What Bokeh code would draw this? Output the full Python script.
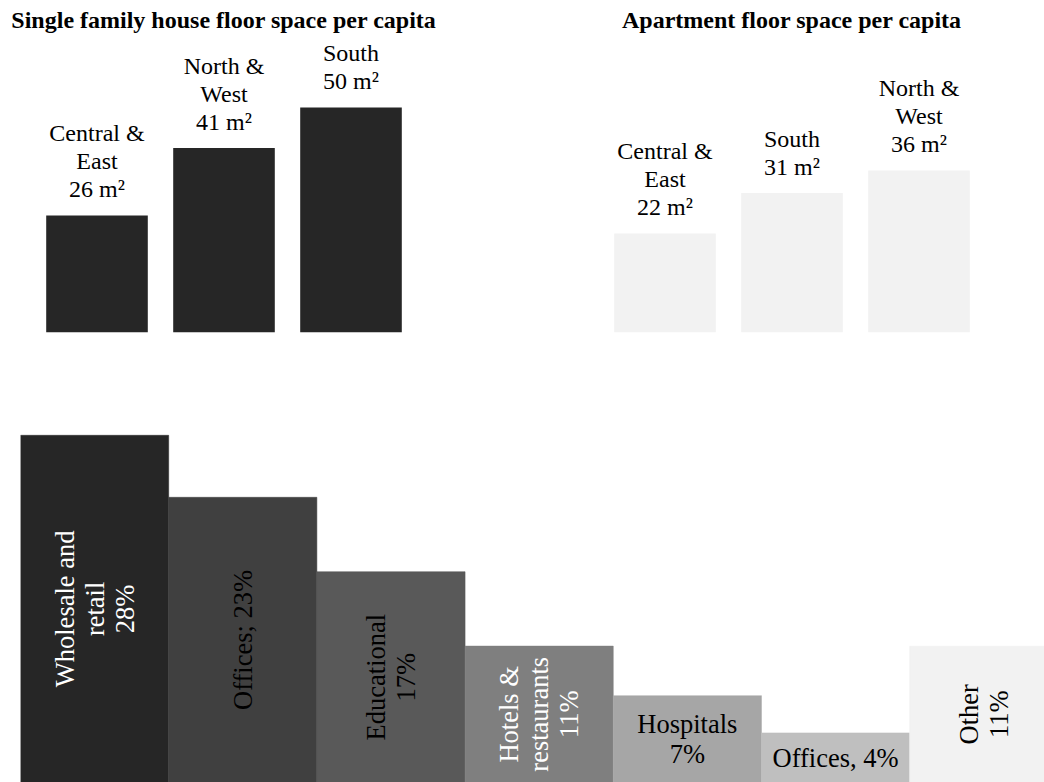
import math

from bokeh.core.properties import value
from bokeh.embed import file_html
from bokeh.layouts import column, row
from bokeh.models import ColumnDataSource, FactorRange, Range1d
from bokeh.plotting import figure
from bokeh.resources import INLINE

SERIF = "Liberation Serif"

# Floor space per capita by region, m²
house_regions = ["Central &\nEast", "North &\nWest", "South"]
house_space = [26, 41, 50]

apartment_regions = ["Central &\nEast", "South", "North &\nWest"]
apartment_space = [22, 31, 36]

# Share of non-residential floor space by building type, %
sector_names = ["Wholesale and\nretail", "Offices", "Educational",
                "Hotels &\nrestaurants", "Hospitals", "Offices", "Other"]
sector_share = [28, 23, 17, 11, 7, 4, 11]
sector_separators = ["\n", "; ", "\n", "\n", "\n", ", ", "\n"]
sector_fill = ["#262626", "#404040", "#595959", "#7f7f7f", "#a6a6a6", "#bfbfbf", "#f2f2f2"]
sector_ink = ["#ffffff", "#000000", "#000000", "#ffffff", "#000000", "#000000", "#000000"]
sector_upright = [False, False, False, False, True, True, False]


def region_panel(title, regions, space, fill, border_left, border_right):
    p = figure(x_range=FactorRange(factors=regions), y_range=Range1d(0, 66),
               frame_width=381, frame_height=297,
               min_border_left=border_left, min_border_right=border_right,
               min_border_top=35, min_border_bottom=78,
               x_axis_location=None, y_axis_location=None, title=title,
               output_backend="svg", toolbar_location=None)
    p.title.text_font = SERIF
    p.title.text_font_size = "24px"
    p.title.text_font_style = "bold"
    p.title.text_color = "#000000"
    p.title.align = "center"
    p.title.standoff = 5
    p.outline_line_color = None
    p.grid.visible = False

    labels = [f"{r}\n{v} m²" for r, v in zip(regions, space)]
    src = ColumnDataSource(dict(region=regions, space=space, label=labels))
    p.vbar(x="region", top="space", width=0.8, source=src,
           fill_color=fill, line_color=None)
    p.text(x="region", y="space", text="label", source=src,
           text_align="center", text_baseline="bottom", y_offset=-13,
           text_font=value(SERIF), text_font_size="24px",
           text_line_height=1.08, text_color="#000000")
    return p


houses = region_panel("Single family house floor space per capita",
                      house_regions, house_space, "#262626", 33, 108)
apartments = region_panel("Apartment floor space per capita",
                          apartment_regions, apartment_space, "#f2f2f2", 79, 62)

# Stepped bars for building types, the last one running off the right edge
n = len(sector_share)
sectors = ColumnDataSource(dict(
    x=[i + 0.5 for i in range(n)],
    share=sector_share,
    mid=[v / 2 for v in sector_share],
    label=[nm + sep + f"{v}%" for nm, sep, v in zip(sector_names, sector_separators, sector_share)],
    angle=[0 if up else math.pi / 2 for up in sector_upright],
    fill=sector_fill,
    ink=sector_ink,
))

b = figure(x_range=Range1d(0, 6.91), y_range=Range1d(0, 30),
           frame_width=1024, frame_height=372,
           min_border_left=20, min_border_right=0, min_border_top=0, min_border_bottom=0,
           x_axis_location=None, y_axis_location=None,
           output_backend="svg", toolbar_location=None)
b.outline_line_color = None
b.grid.visible = False
b.vbar(x="x", top="share", width=1.0, source=sectors,
       fill_color="fill", line_color="fill", line_width=0.5)
b.text(x="x", y="mid", text="label", angle="angle", source=sectors,
       text_align="center", text_baseline="middle", text_color="ink",
       text_font=value(SERIF), text_font_size="26.5px", text_line_height=1.0)

layout = column(row(houses, apartments, spacing=0), b, spacing=0)

with open("out.html", "w") as f:
    f.write(file_html(layout, INLINE))
